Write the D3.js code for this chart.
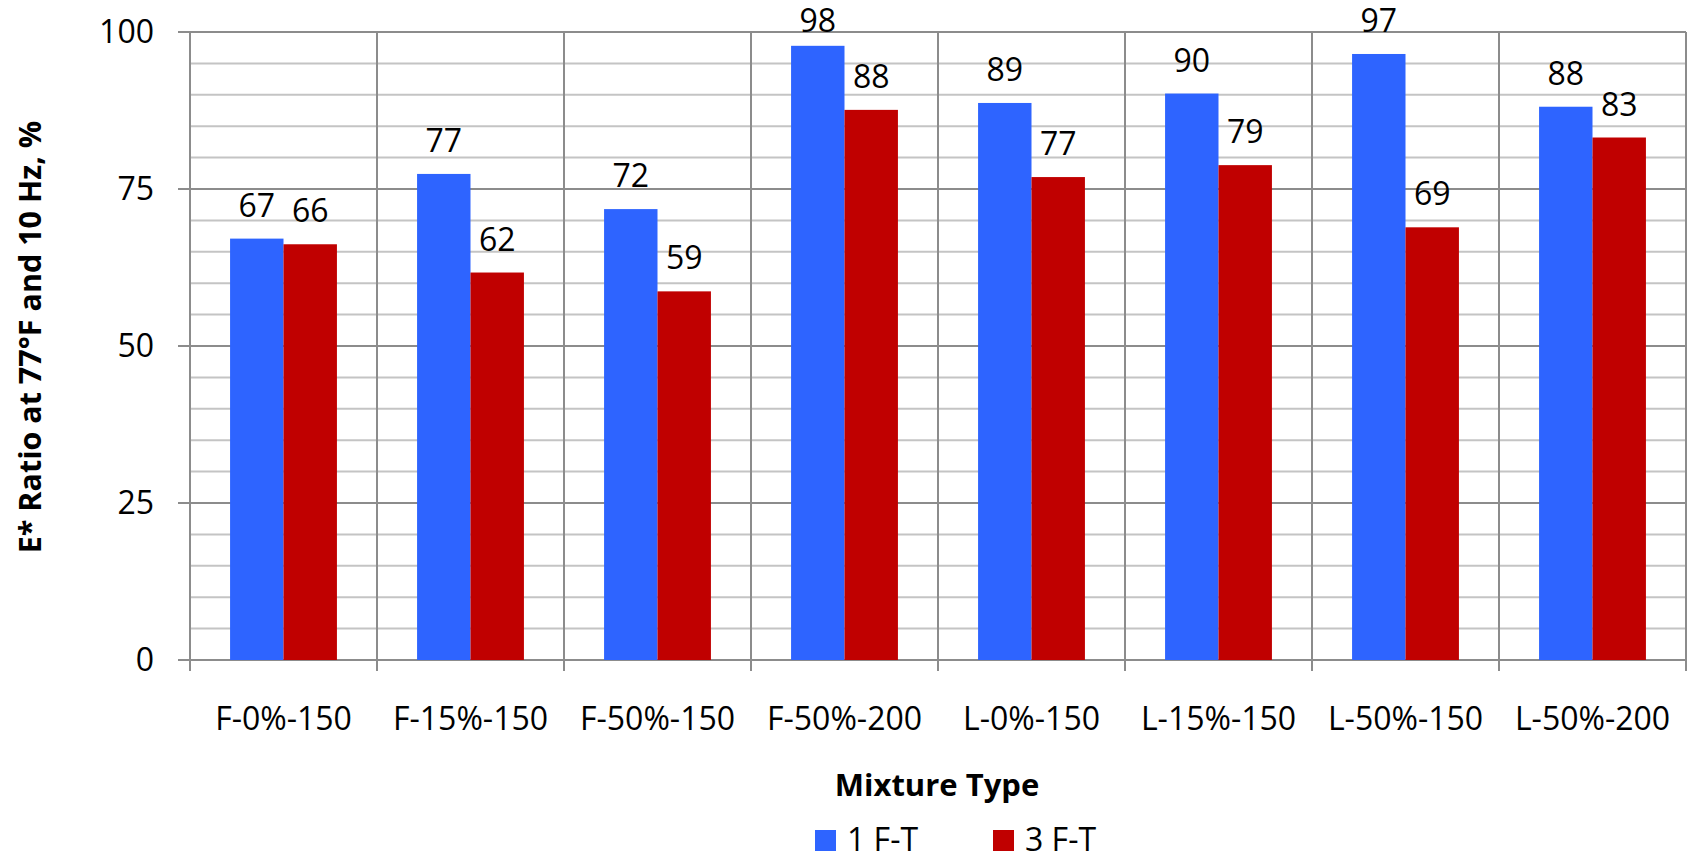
<!DOCTYPE html>
<html>
<head>
<meta charset="utf-8">
<script src="https://cdn.jsdelivr.net/npm/d3@7"></script>
<style>
  html, body { margin: 0; padding: 0; background: #fff; }
  svg { display: block; font-family: "Open Sans", "Noto Sans", sans-serif; }
</style>
</head>
<body>
<svg id="chart" width="1690" height="858"></svg>
<script>
// Mixture categories along the x axis
const categories = ["F-0%-150", "F-15%-150", "F-50%-150", "F-50%-200",
                    "L-0%-150", "L-15%-150", "L-50%-150", "L-50%-200"];
// Series names (freeze-thaw cycles)
const seriesNames = ["1 F-T", "3 F-T"];
// E* ratio values, %
const oneFT   = [67.1, 77.4, 71.8, 97.8, 88.7, 90.2, 96.5, 88.1];
const threeFT = [66.2, 61.7, 58.7, 87.6, 76.9, 78.8, 68.9, 83.2];
const seriesColors = ["#2E64FF", "#C00000"];
// Axis ticks
const yMajorTicks = [0, 25, 50, 75, 100];
const yMinorTicks = [5, 10, 15, 20, 30, 35, 40, 45, 55, 60, 65, 70, 80, 85, 90, 95];

const svg = d3.select("#chart");
const plot = { left: 190, right: 1686, top: 32, bottom: 660 };

const x = d3.scaleBand().domain(categories).range([plot.left, plot.right]).padding(0);
// Gap on each side of a bar pair equals 0.75 of a bar width
const xs = d3.scaleBand().domain(seriesNames).range([0, x.bandwidth()])
  .paddingInner(0).paddingOuter(0.75);
const y = d3.scaleLinear().domain([0, 100]).range([plot.bottom, plot.top]);
const color = d3.scaleOrdinal().domain(seriesNames).range(seriesColors);

const rows = categories.map((c, i) => ({ cat: c, vals: [
  { name: seriesNames[0], v: oneFT[i] },
  { name: seriesNames[1], v: threeFT[i] }
]}));

// Minor horizontal gridlines
svg.append("g").selectAll("line").data(yMinorTicks).join("line")
  .attr("x1", plot.left).attr("x2", plot.right)
  .attr("y1", d => y(d)).attr("y2", d => y(d))
  .attr("stroke", "#c4c4c4").attr("stroke-width", 2);

// Major horizontal gridlines with left tick marks
svg.append("g").selectAll("line").data(yMajorTicks).join("line")
  .attr("x1", plot.left - 12).attr("x2", plot.right)
  .attr("y1", d => y(d)).attr("y2", d => y(d))
  .attr("stroke", "#8c8c8c").attr("stroke-width", 2);

// Vertical category separators extending below the axis as ticks
const bounds = categories.map(c => x(c)).concat([plot.right]);
svg.append("g").selectAll("line").data(bounds).join("line")
  .attr("x1", d => d).attr("x2", d => d)
  .attr("y1", plot.top).attr("y2", plot.bottom + 11)
  .attr("stroke", "#8c8c8c").attr("stroke-width", 2);

// Bars
const groups = svg.append("g").selectAll("g").data(rows).join("g")
  .attr("transform", d => `translate(${x(d.cat)},0)`);

groups.selectAll("rect").data(d => d.vals).join("rect")
  .attr("x", d => xs(d.name))
  .attr("width", xs.bandwidth())
  .attr("y", d => y(d.v))
  .attr("height", d => y(0) - y(d.v))
  .attr("fill", d => color(d.name));

// Value labels above bars, kept inside the top of the plot
groups.selectAll("text").data(d => d.vals).join("text")
  .attr("x", d => xs(d.name) + xs.bandwidth() / 2)
  .attr("y", d => Math.max(y(d.v) - 22, plot.top))
  .attr("text-anchor", "middle")
  .attr("font-size", 32)
  .attr("fill", "#000")
  .text(d => d3.format(".0f")(d.v));

// Y tick labels
svg.append("g").selectAll("text").data(yMajorTicks).join("text")
  .attr("x", 154).attr("y", d => y(d))
  .attr("dy", "0.35em")
  .attr("text-anchor", "end")
  .attr("font-size", 32)
  .text(d => d);

// X category labels
svg.append("g").selectAll("text").data(categories).join("text")
  .attr("x", d => x(d) + x.bandwidth() / 2)
  .attr("y", 730)
  .attr("text-anchor", "middle")
  .attr("font-size", 32)
  .text(d => d);

// Axis titles
svg.append("text")
  .attr("transform", "translate(41,337) rotate(-90)")
  .attr("text-anchor", "middle")
  .attr("font-size", 30.5)
  .attr("font-weight", "bold")
  .text("E* Ratio at 77°F and 10 Hz, %");

svg.append("text")
  .attr("x", 937)
  .attr("y", 796)
  .attr("text-anchor", "middle")
  .attr("font-size", 31)
  .attr("font-weight", "bold")
  .text("Mixture Type");

// Legend
const legendX = [815, 993];
const legend = svg.append("g").selectAll("g").data(seriesNames).join("g")
  .attr("transform", (d, i) => `translate(${legendX[i]},830)`);
legend.append("rect").attr("width", 21).attr("height", 21).attr("fill", d => color(d));
legend.append("text").attr("x", 32).attr("y", 21)
  .attr("font-size", 32).text(d => d);
</script>
</body>
</html>
